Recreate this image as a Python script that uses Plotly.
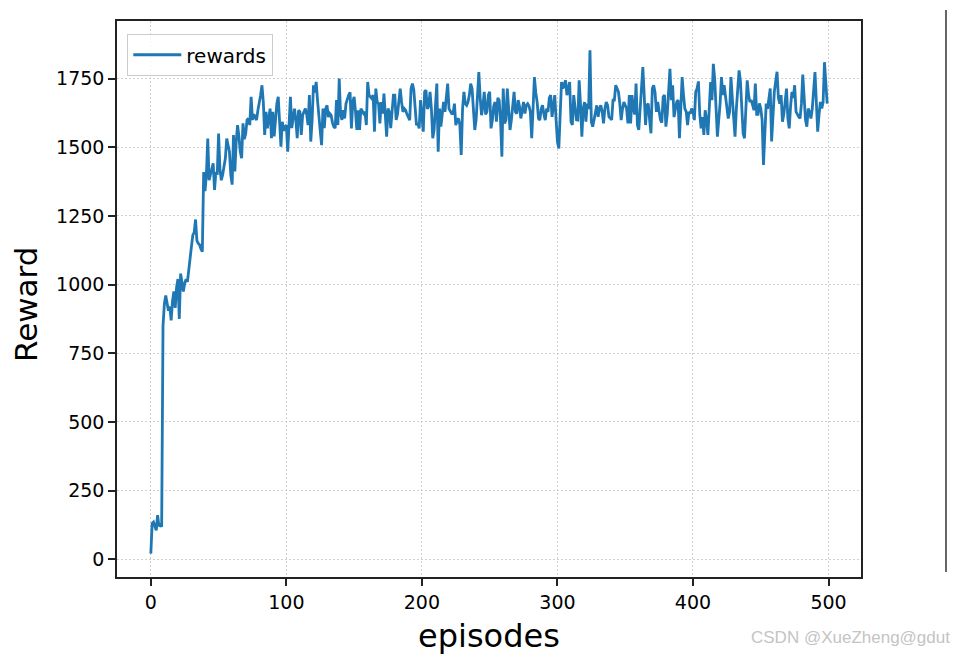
import plotly.graph_objects as go

rewards = [
    20, 130, 135, 120, 105, 160, 120, 125, 118, 850,
    930, 960, 930, 905, 920, 870, 940, 975, 915, 990,
    1020, 875, 1040, 1000, 975, 1005, 1020, 1010, 1060, 1100,
    1140, 1180, 1190, 1237, 1160, 1150, 1145, 1130, 1120, 1410,
    1340, 1400, 1532, 1380, 1400, 1420, 1442, 1345, 1410, 1400,
    1550, 1420, 1380, 1400, 1440, 1460, 1532, 1500, 1484, 1400,
    1364, 1545, 1412, 1521, 1581, 1540, 1484, 1460, 1587, 1530,
    1550, 1600, 1605, 1581, 1684, 1600, 1620, 1610, 1599, 1635,
    1660, 1690, 1726, 1665, 1545, 1629, 1569, 1600, 1641, 1533,
    1629, 1540, 1600, 1660, 1684, 1590, 1502, 1593, 1560, 1575,
    1581, 1484, 1600, 1684, 1570, 1617, 1641, 1600, 1533, 1635,
    1629, 1545, 1617, 1629, 1641, 1620, 1581, 1690, 1521, 1600,
    1726, 1700, 1738, 1670, 1600, 1560, 1508, 1641, 1570, 1640,
    1653, 1610, 1623, 1617, 1590, 1575, 1570, 1672, 1581, 1750,
    1620, 1600, 1635, 1605, 1659, 1680, 1690, 1700, 1569, 1665,
    1684, 1630, 1563, 1635, 1563, 1641, 1630, 1623, 1629, 1581,
    1738, 1690, 1684, 1678, 1690, 1557, 1714, 1665, 1659, 1587,
    1665, 1623, 1696, 1600, 1539, 1641, 1629, 1570, 1640, 1690,
    1690, 1600, 1620, 1680, 1714, 1665, 1629, 1641, 1635, 1620,
    1611, 1599, 1714, 1732, 1710, 1640, 1581, 1587, 1569, 1672,
    1600, 1557, 1702, 1708, 1640, 1650, 1702, 1641, 1533, 1563,
    1650, 1732, 1484, 1641, 1575, 1620, 1665, 1629, 1672, 1732,
    1640, 1629, 1623, 1623, 1659, 1581, 1599, 1605, 1581, 1472,
    1641, 1702, 1659, 1653, 1665, 1690, 1732, 1714, 1617, 1563,
    1600, 1680, 1774, 1680, 1617, 1650, 1702, 1620, 1630, 1690,
    1702, 1569, 1600, 1650, 1665, 1593, 1680, 1672, 1600, 1466,
    1714, 1587, 1600, 1714, 1653, 1563, 1599, 1640, 1702, 1629,
    1623, 1672, 1650, 1605, 1640, 1665, 1623, 1653, 1659, 1650,
    1630, 1533, 1641, 1756, 1700, 1665, 1605, 1599, 1640, 1653,
    1620, 1599, 1641, 1629, 1680, 1690, 1611, 1659, 1690, 1600,
    1520, 1496, 1641, 1738, 1714, 1735, 1744, 1690, 1714, 1738,
    1593, 1581, 1690, 1629, 1600, 1599, 1744, 1659, 1539, 1641,
    1665, 1593, 1659, 1640, 1853, 1593, 1575, 1600, 1629, 1653,
    1611, 1641, 1653, 1629, 1587, 1641, 1665, 1653, 1611, 1605,
    1600, 1672, 1672, 1726, 1714, 1702, 1659, 1599, 1640, 1665,
    1653, 1641, 1587, 1690, 1587, 1690, 1641, 1620, 1732, 1581,
    1563, 1641, 1750, 1792, 1690, 1581, 1653, 1659, 1600, 1551,
    1714, 1726, 1700, 1629, 1665, 1635, 1600, 1590, 1684, 1690,
    1575, 1620, 1720, 1786, 1672, 1726, 1610, 1641, 1665, 1672,
    1533, 1641, 1756, 1690, 1641, 1629, 1581, 1629, 1623, 1641,
    1630, 1599, 1702, 1714, 1740, 1620, 1569, 1610, 1545, 1635,
    1600, 1545, 1641, 1738, 1672, 1804, 1750, 1650, 1539, 1600,
    1660, 1756, 1690, 1726, 1690, 1641, 1605, 1629, 1756, 1680,
    1599, 1539, 1641, 1702, 1780, 1740, 1640, 1550, 1533, 1620,
    1744, 1690, 1665, 1672, 1650, 1635, 1732, 1620, 1620, 1660,
    1641, 1600, 1436, 1560, 1659, 1640, 1690, 1714, 1521, 1620,
    1702, 1740, 1775, 1680, 1659, 1690, 1593, 1620, 1672, 1714,
    1605, 1569, 1650, 1702, 1680, 1726, 1630, 1617, 1611, 1605,
    1659, 1765, 1700, 1600, 1575, 1641, 1629, 1605, 1640, 1720,
    1774, 1665, 1557, 1620, 1665, 1641, 1665, 1810, 1720, 1659,
]
episodes = list(range(len(rewards)))

x_ticks = [0, 100, 200, 300, 400, 500]
y_ticks = [0, 250, 500, 750, 1000, 1250, 1500, 1750]

FONT = "DejaVu Sans"

# page body has an 8px margin, so the figure is sized/placed to compensate
PLOT_L, PLOT_R, PLOT_T, PLOT_B = 117, 861, 19, 577
W, H = 950, 649
OFF = 8
ml = PLOT_L - OFF
mt = PLOT_T - OFF
mr = (OFF + W) - PLOT_R
mb = (OFF + H) - PLOT_B
pw = PLOT_R - PLOT_L
ph = PLOT_B - PLOT_T


def px(xp):
    return (xp - PLOT_L) / pw


def py(yp):
    return (PLOT_B - yp) / ph


fig = go.Figure()
fig.add_trace(go.Scatter(
    x=episodes, y=rewards, mode="lines", name="rewards",
    line=dict(color="#1f77b4", width=2.8),
))

axis_common = dict(
    showline=True, linecolor="#222222", linewidth=1.5, mirror=True,
    ticks="outside", ticklen=7, tickwidth=1.5, tickcolor="#222222",
    showgrid=True, gridcolor="#d0d0d0", gridwidth=1.2, griddash="2px,2px",
    zeroline=False, tickfont=dict(family=FONT, size=19, color="black"),
)

fig.update_layout(
    width=W, height=H,
    margin=dict(l=ml, r=mr, t=mt, b=mb),
    paper_bgcolor="white", plot_bgcolor="white",
    font=dict(family=FONT, color="black"),
    xaxis=dict(range=[-24.95, 523.95], tickvals=x_ticks, **axis_common),
    yaxis=dict(range=[-65, 1960], tickvals=y_ticks, **axis_common),
    showlegend=True,
    legend=dict(
        x=px(127), y=py(32), xanchor="left", yanchor="top",
        bgcolor="rgba(255,255,255,0.8)", bordercolor="#cccccc", borderwidth=1.3,
        font=dict(family=FONT, size=20, color="black"),
        itemwidth=48,
    ),
    annotations=[
        dict(text="episodes", xref="paper", yref="paper", x=px(489), y=py(636),
             xanchor="center", yanchor="middle", showarrow=False,
             font=dict(family=FONT, size=32, color="black")),
        dict(text="Reward", xref="paper", yref="paper", x=px(26), y=py(304),
             xanchor="center", yanchor="middle", showarrow=False, textangle=-90,
             font=dict(family=FONT, size=31, color="black")),
        dict(text="CSDN @XueZheng@gdut", xref="paper", yref="paper",
             x=px(952), y=py(638),
             xanchor="right", yanchor="middle", showarrow=False,
             font=dict(family="Liberation Sans", size=17, color="#c4c4c4")),
    ],
    shapes=[
        dict(type="line", xref="paper", yref="paper",
             x0=px(946), x1=px(946), y0=py(OFF), y1=py(572),
             line=dict(color="#333333", width=1.5)),
    ],
)

fig.write_html("out.html")
